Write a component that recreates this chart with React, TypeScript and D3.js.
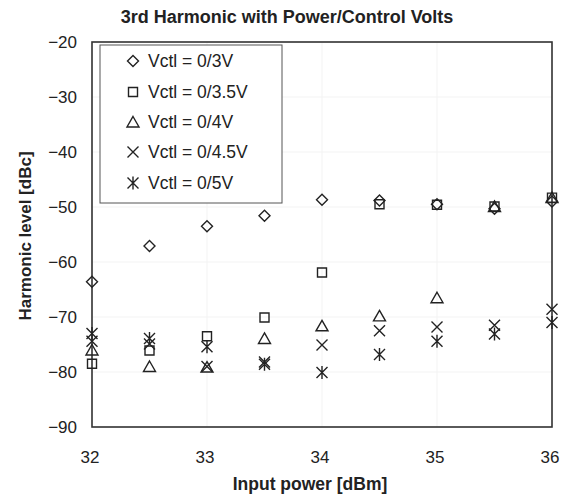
import React from "react";
import * as d3 from "d3";

const inputPower = [32, 32.5, 33, 33.5, 34, 34.5, 35, 35.5, 36];
const vctl3 = [-63.6, -57.1, -53.5, -51.6, -48.7, -48.8, -49.5, -50.3, -49.0];
const vctl35 = [-78.5, -76.1, -73.5, -70.1, -61.9, -49.5, -49.6, -49.9, -48.3];
const vctl4 = [-76.0, -79.0, -79.1, -73.9, -71.6, -69.8, -66.5, -49.9, -48.3];
const vctl45 = [-74.4, -74.9, -79.0, -78.2, -75.1, -72.5, -71.8, -71.5, -68.6];
const vctl5 = [-73.0, -73.9, -75.4, -78.6, -80.1, -76.8, -74.4, -73.1, -71.0];
const seriesNames = ["Vctl = 0/3V", "Vctl = 0/3.5V", "Vctl = 0/4V", "Vctl = 0/4.5V", "Vctl = 0/5V"];
const markerKinds = ["diamond", "square", "triangle", "cross", "asterisk"];
const xTicks = [32, 33, 34, 35, 36];
const yTicks = [-90, -80, -70, -60, -50, -40, -30, -20];

const W = 568;
const H = 497;
const M = { left: 92, right: 552, top: 42, bottom: 427 };
const INK = "#222";
const FONT = "'Liberation Sans', Arial, Helvetica, sans-serif";

function markerPath(kind: string, cx: number, cy: number): string {
  const p = d3.path();
  if (kind === "diamond") {
    const r = 5.5;
    p.moveTo(cx, cy - r);
    p.lineTo(cx + r, cy);
    p.lineTo(cx, cy + r);
    p.lineTo(cx - r, cy);
    p.closePath();
  } else if (kind === "square") {
    const r = 4.5;
    p.rect(cx - r, cy - r, 2 * r, 2 * r);
  } else if (kind === "triangle") {
    p.moveTo(cx, cy - 5.5);
    p.lineTo(cx + 6, cy + 5);
    p.lineTo(cx - 6, cy + 5);
    p.closePath();
  } else if (kind === "cross") {
    const r = 5.5;
    p.moveTo(cx - r, cy - r);
    p.lineTo(cx + r, cy + r);
    p.moveTo(cx + r, cy - r);
    p.lineTo(cx - r, cy + r);
  } else {
    const r = 5.5;
    p.moveTo(cx - r, cy - r);
    p.lineTo(cx + r, cy + r);
    p.moveTo(cx + r, cy - r);
    p.lineTo(cx - r, cy + r);
    p.moveTo(cx, cy - r - 1);
    p.lineTo(cx, cy + r + 1);
  }
  return p.toString();
}

export default function App() {
  const x = d3.scaleLinear().domain([32, 36]).range([M.left, M.right]);
  const y = d3.scaleLinear().domain([-90, -20]).range([M.bottom, M.top]);
  const series = [vctl3, vctl35, vctl4, vctl45, vctl5];

  const legend = { x: 100, y: 45, w: 182, h: 158 };
  const legendRows = [61, 92, 122, 152, 183];

  return (
    <svg
      width={W}
      height={H}
      style={{ position: "absolute", left: 0, top: 0, background: "#fff" }}
      fontFamily={FONT}
    >
      <rect x={0} y={0} width={W} height={H} fill="#fff" />
      <text x={287} y={22.5} textAnchor="middle" fontSize={18} fontWeight="bold" fill={INK}>
        3rd Harmonic with Power/Control Volts
      </text>

      {/* faint grid */}
      {yTicks.map((t) => (
        <line key={"gy" + t} x1={M.left} x2={M.right} y1={y(t)} y2={y(t)} stroke="#f3f3f3" strokeWidth={1} />
      ))}
      {xTicks.map((t) => (
        <line key={"gx" + t} x1={x(t)} x2={x(t)} y1={M.top} y2={M.bottom} stroke="#f3f3f3" strokeWidth={1} />
      ))}

      {/* frame */}
      <rect
        x={M.left}
        y={M.top}
        width={M.right - M.left}
        height={M.bottom - M.top}
        fill="none"
        stroke="#333"
        strokeWidth={1.6}
      />

      {/* y tick labels */}
      {yTicks.map((t) => (
        <text key={"yl" + t} x={77} y={y(t)} dy="0.35em" textAnchor="end" fontSize={17} fill={INK}>
          {"\u2212" + Math.abs(t)}
        </text>
      ))}
      {/* x tick labels */}
      {xTicks.map((t) => (
        <text key={"xl" + t} x={x(t) - 2} y={462.5} textAnchor="middle" fontSize={17} fill={INK}>
          {t}
        </text>
      ))}

      <text x={310} y={490} textAnchor="middle" fontSize={17.5} fontWeight="bold" fill={INK}>
        Input power [dBm]
      </text>
      <text
        transform={`translate(31, 236) rotate(-90)`}
        textAnchor="middle"
        fontSize={17}
        fontWeight="bold"
        fill={INK}
      >
        Harmonic level [dBc]
      </text>

      {/* markers */}
      {series.map((vals, si) => (
        <g key={"s" + si}>
          {vals.map((v, i) => (
            <path
              key={i}
              d={markerPath(markerKinds[si], x(inputPower[i]), y(v))}
              fill="none"
              stroke={INK}
              strokeWidth={1.4}
            />
          ))}
        </g>
      ))}

      {/* legend */}
      <rect x={legend.x} y={legend.y} width={legend.w} height={legend.h} fill="#fff" stroke="#555" strokeWidth={1} />
      {seriesNames.map((name, i) => (
        <g key={"lg" + i}>
          <path d={markerPath(markerKinds[i], 133, legendRows[i])} fill="none" stroke={INK} strokeWidth={1.4} />
          <text x={148} y={legendRows[i]} dy="0.35em" fontSize={17.5} fill={INK}>
            {name}
          </text>
        </g>
      ))}
    </svg>
  );
}
